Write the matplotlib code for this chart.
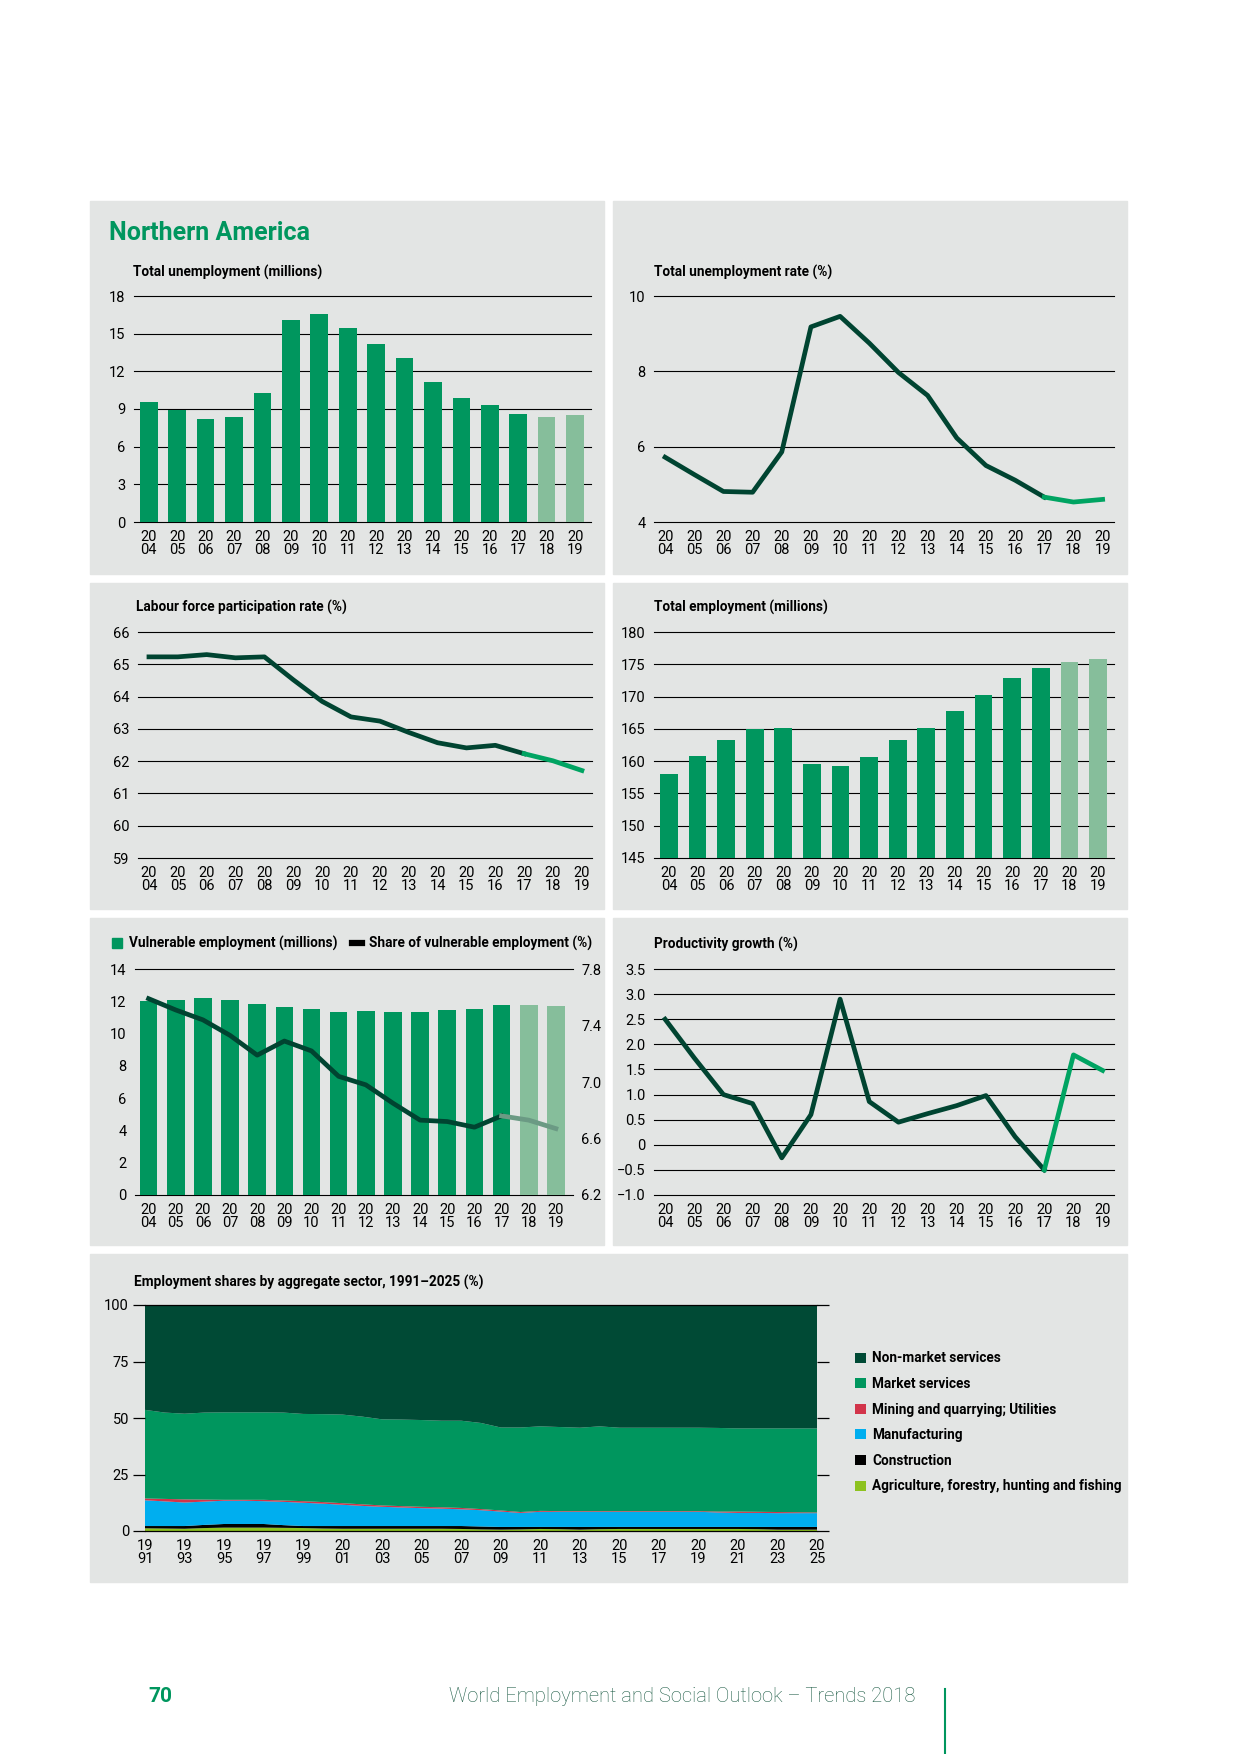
import matplotlib
matplotlib.use("Agg")
import matplotlib.pyplot as plt
from matplotlib.patches import Rectangle, Patch
from matplotlib.lines import Line2D

plt.rcParams['font.family'] = ['Roboto', 'DejaVu Sans']

# colours
GREEN = '#00965e'
LIGHT = '#86be9b'
DARK = '#004431'
BRIGHT = '#00a462'
PANEL = '#e3e5e4'

# ---- data ----
years = list(range(2004, 2020))
year_labels = ["20\n%02d" % (y % 100) for y in years]
n_hist = 14  # 2004-2017 estimates, 2018-2019 projections

unemployment = [9.55, 8.96, 8.19, 8.35, 10.27, 16.1, 16.6, 15.47, 14.19, 13.07,
                11.15, 9.87, 9.31, 8.59, 8.35, 8.51]
unemp_rate = [5.72, 5.26, 4.81, 4.79, 5.86, 9.18, 9.46, 8.75, 7.97, 7.36,
              6.23, 5.50, 5.11, 4.66, 4.53, 4.60]
lfpr = [65.23, 65.23, 65.30, 65.20, 65.23, 64.52, 63.85, 63.37, 63.24, 62.89,
        62.57, 62.41, 62.49, 62.23, 62.01, 61.71]
employment = [158.06, 160.85, 163.33, 165.03, 165.19, 159.61, 159.30, 160.69,
              163.33, 165.19, 167.82, 170.30, 172.93, 174.48, 175.41, 175.87]
vulnerable = [12.0, 12.06, 12.18, 12.06, 11.81, 11.63, 11.50, 11.32, 11.38,
              11.32, 11.32, 11.44, 11.50, 11.75, 11.75, 11.69]
vuln_share = [7.59, 7.51, 7.44, 7.33, 7.19, 7.29, 7.22, 7.04, 6.98, 6.85,
              6.73, 6.72, 6.68, 6.76, 6.73, 6.67]
productivity = [2.50, 1.73, 1.00, 0.82, -0.26, 0.60, 2.90, 0.86, 0.45, 0.62,
                0.78, 0.98, 0.16, -0.50, 1.79, 1.48]

sector_years = list(range(1991, 2026))
agriculture = [1.2, 1.1, 1.0, 1.3, 1.5, 1.5, 1.5, 1.4, 1.3, 1.1, 1.0, 1.0, 1.0, 1.0,
               1.0, 1.0, 0.9, 0.7, 0.6, 0.7, 0.9, 0.8, 0.6, 0.8, 0.9, 0.9, 0.9, 0.9,
               0.9, 0.9, 0.9, 0.8, 0.6, 0.6, 0.6]
construction = [1.0, 1.1, 1.2, 1.4, 1.6, 1.6, 1.6, 1.2, 0.9, 1.1, 1.2, 1.2, 1.2, 1.2,
                1.2, 1.2, 1.3, 1.3, 1.2, 1.1, 0.9, 1.0, 1.2, 1.0, 0.9, 0.9, 0.9, 0.9,
                0.9, 0.9, 0.9, 1.0, 1.2, 1.2, 1.2]
manufacturing = [11.4, 10.9, 10.4, 10.3, 10.3, 10.3, 10.1, 10.3, 10.3, 9.9, 9.4, 8.9,
                 8.5, 8.2, 7.9, 7.7, 7.4, 7.2, 6.8, 6.2, 6.7, 6.7, 6.7, 6.7, 6.7,
                 6.7, 6.7, 6.7, 6.7, 6.4, 6.2, 6.2, 6.1, 6.1, 6.1]
mining = [0.8, 1.1, 1.4, 0.9, 0.4, 0.4, 0.6, 0.6, 0.7, 0.7, 0.7, 0.7, 0.6, 0.6, 0.6,
          0.6, 0.6, 0.5, 0.5, 0.4, 0.4, 0.3, 0.3, 0.3, 0.3, 0.3, 0.3, 0.3, 0.3, 0.4,
          0.6, 0.5, 0.5, 0.4, 0.3]
market = [39.2, 38.2, 37.9, 38.5, 38.7, 38.7, 38.7, 38.9, 38.6, 38.9, 39.2, 38.8, 38.1,
          38.3, 38.4, 38.3, 38.6, 38.1, 36.7, 37.4, 37.4, 37.2, 36.9, 37.5, 36.9, 36.9,
          36.9, 36.9, 36.9, 37.0, 36.8, 36.9, 37.0, 37.1, 37.2]
non_market = [46.4, 47.6, 48.1, 47.6, 47.5, 47.5, 47.5, 47.6, 48.2, 48.3, 48.5, 49.4,
              50.6, 50.7, 50.9, 51.2, 51.2, 52.2, 54.2, 54.2, 53.7, 54.0, 54.3, 53.7,
              54.3, 54.3, 54.3, 54.3, 54.3, 54.4, 54.6, 54.6, 54.6, 54.6, 54.6]
sector_names = ['Agriculture, forestry, hunting and fishing', 'Construction',
                'Manufacturing', 'Mining and quarrying; Utilities',
                'Market services', 'Non-market services']
sector_colors = ['#8dc21f', '#000000', '#00aeef', '#d2344a', GREEN, '#004a35']

# ---- page ----
W, H = 1240, 1754
fig = plt.figure(figsize=(W / 100, H / 100), dpi=100)
fig.patch.set_facecolor('white')


def box(x0, y0, x1, y1):
    fig.patches.append(Rectangle((x0 / W, 1 - y1 / H), (x1 - x0) / W, (y1 - y0) / H,
                                 transform=fig.transFigure, color=PANEL, zorder=-10))


def axes_at(x0, y0, x1, y1):
    ax = fig.add_axes([x0 / W, 1 - y1 / H, (x1 - x0) / W, (y1 - y0) / H])
    ax.patch.set_alpha(0)
    for s in ax.spines.values():
        s.set_visible(False)
    return ax


def ftext(x, y, s, **kw):
    fig.text(x / W, 1 - y / H, s, **kw)


def style(ax, ticks, labels, xlim, grid=True):
    ax.set_xlim(*xlim)
    ax.set_ylim(ticks[0], ticks[-1])
    ax.set_yticks(ticks)
    ax.set_yticklabels(labels)
    ax.set_xticks(range(len(years)))
    ax.set_xticklabels(year_labels, linespacing=0.9)
    ax.tick_params(length=0, labelsize=10.5, pad=6)
    lines = ticks if grid else [ticks[0], ticks[-1]]
    for t in lines:
        ax.axhline(t, color='black', lw=0.8, zorder=1, clip_on=False)


def colors_for(n):
    return [GREEN] * n_hist + [LIGHT] * (n - n_hist)


for b in [(90, 201, 604, 574), (613, 201, 1127, 574), (90, 583, 604, 909),
          (613, 583, 1127, 909), (90, 918, 604, 1245), (613, 918, 1127, 1245),
          (90, 1254, 1127, 1582)]:
    box(*b)

x = list(range(len(years)))
bold = dict(fontsize=9.8, weight='bold', va='center')
LW = 3.4

# Total unemployment
ftext(109, 233, 'Northern America', color=GREEN, fontsize=18, weight='bold', va='center')
ftext(133, 272, 'Total unemployment (millions)', **bold)
ax1 = axes_at(134, 296, 591, 522)
ax1.bar(x, unemployment, width=0.62, color=colors_for(len(x)), zorder=2)
style(ax1, [0, 3, 6, 9, 12, 15, 18], ['0', '3', '6', '9', '12', '15', '18'], (-0.52, 15.56))

# Total unemployment rate
ftext(654, 272, 'Total unemployment rate (%)', **bold)
ax2 = axes_at(654, 296, 1114, 522)
ax2.plot(x[:n_hist], unemp_rate[:n_hist], color=DARK, lw=LW, zorder=3, solid_joinstyle='round')
ax2.plot(x[n_hist - 1:], unemp_rate[n_hist - 1:], color=BRIGHT, lw=LW, zorder=3)
style(ax2, [4, 6, 8, 10], ['4', '6', '8', '10'], (-0.38, 15.39))

# Labour force participation rate
ftext(136, 607, 'Labour force participation rate (%)', **bold)
ax3 = axes_at(138, 632, 592, 858)
ax3.plot(x[:n_hist], lfpr[:n_hist], color=DARK, lw=LW, zorder=3, solid_joinstyle='round')
ax3.plot(x[n_hist - 1:], lfpr[n_hist - 1:], color=BRIGHT, lw=LW, zorder=3)
lt = [59, 60, 61, 62, 63, 64, 65, 66]
style(ax3, lt, [str(v) for v in lt], (-0.38, 15.35))

# Total employment
ftext(654, 607, 'Total employment (millions)', **bold)
ax4 = axes_at(654, 632, 1114, 858)
ax4.bar(x, employment, width=0.62, color=colors_for(len(x)), zorder=2)
et = [145, 150, 155, 160, 165, 170, 175, 180]
style(ax4, et, [str(v) for v in et], (-0.52, 15.56))

# Vulnerable employment
ax5 = axes_at(135, 969, 573, 1195)
ax5.bar(x, vulnerable, width=0.65, color=colors_for(len(x)), zorder=2)
vt = [0, 2, 4, 6, 8, 10, 12, 14]
style(ax5, vt, [str(v) for v in vt], (-0.5, 15.63), grid=False)
ax5r = ax5.twinx()
for s in ax5r.spines.values():
    s.set_visible(False)
ax5r.plot(x[:n_hist], vuln_share[:n_hist], color=DARK, lw=LW, zorder=3, solid_joinstyle='round')
ax5r.plot(x[n_hist - 1:], vuln_share[n_hist - 1:], color='#6b9a84', lw=LW, zorder=3)
ax5r.set_ylim(6.2, 7.8)
ax5r.set_yticks([6.2, 6.6, 7.0, 7.4, 7.8])
ax5r.set_yticklabels(['6.2', '6.6', '7.0', '7.4', '7.8'])
ax5r.tick_params(length=0, labelsize=10.5, pad=6)
fig.legend(handles=[Patch(color=GREEN, label='Vulnerable employment (millions)'),
                    Line2D([], [], color='black', lw=4.5, label='Share of vulnerable employment (%)')],
           loc='upper left', bbox_to_anchor=(109 / W, 1 - 933 / H),
           ncol=2, frameon=False, handlelength=0.75, handleheight=0.75, handletextpad=0.5,
           columnspacing=1.1, borderaxespad=0, borderpad=0.2,
           prop={'weight': 'bold', 'size': 9.8})

# Productivity growth
ftext(654, 944, 'Productivity growth (%)', **bold)
ax6 = axes_at(654, 969, 1114, 1195)
ax6.plot(x[:n_hist], productivity[:n_hist], color=DARK, lw=LW, zorder=3, solid_joinstyle='round')
ax6.plot(x[n_hist - 1:], productivity[n_hist - 1:], color=BRIGHT, lw=LW, zorder=3)
pt = [-1.0, -0.5, 0, 0.5, 1.0, 1.5, 2.0, 2.5, 3.0, 3.5]
style(ax6, pt, ['\u22121.0', '\u22120.5', '0', '0.5', '1.0', '1.5', '2.0', '2.5', '3.0', '3.5'],
      (-0.38, 15.39))

# Employment shares by aggregate sector
ftext(134, 1282, 'Employment shares by aggregate sector, 1991\u20132025 (%)', **bold)
ax7 = axes_at(145, 1305, 817, 1531)
ax7.stackplot(sector_years, agriculture, construction, manufacturing, mining, market,
              non_market, colors=sector_colors, labels=sector_names, lw=0)
ax7.set_xlim(1991, 2025)
ax7.set_ylim(0, 100)
ax7.spines['bottom'].set_visible(True)
ax7.spines['top'].set_visible(True)
ax7.spines['bottom'].set_linewidth(0.9)
ax7.spines['top'].set_linewidth(0.9)
ax7.set_yticks([0, 25, 50, 75, 100])
ax7.tick_params(axis='y', left=True, right=True, labelleft=True, direction='out',
                length=8.5, width=0.9, labelsize=10.5, pad=3)
xt = sector_years[::2]
ax7.set_xticks(xt)
ax7.set_xticklabels(["%d\n%02d" % (y // 100, y % 100) for y in xt], linespacing=0.9)
ax7.tick_params(axis='x', length=0, labelsize=10.5, pad=6)
h, l = ax7.get_legend_handles_labels()
fig.legend(h[::-1], l[::-1], loc='upper left', bbox_to_anchor=(850 / W, 1 - 1346 / H),
           frameon=False, handlelength=0.75, handleheight=0.75, handletextpad=0.5,
           labelspacing=0.85, borderaxespad=0, prop={'weight': 'bold', 'size': 9.8})

# footer
ftext(160, 1697, '70', color=GREEN, fontsize=15, weight='bold', ha='center', va='center')
ftext(915, 1697, 'World Employment and Social Outlook \u2013 Trends 2018', ha='right', va='center',
      fontsize=14.5, color='#1d5c45', weight='light')
fig.add_artist(Line2D([945 / W, 945 / W], [0, 1 - 1689 / H], color=GREEN, lw=1.5,
                      transform=fig.transFigure))

fig.savefig('out.png', dpi=100)
